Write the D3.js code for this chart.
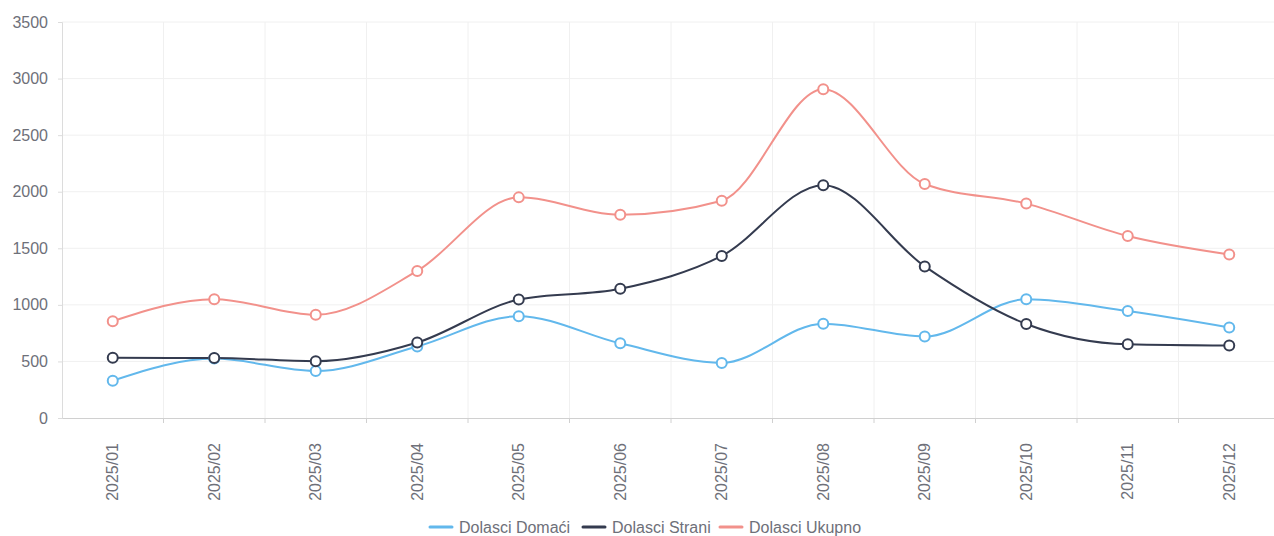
<!DOCTYPE html>
<html lang="en">
<head>
    <meta charset="UTF-8">
    <title>Dolasci 2025</title>
    <script src="https://d3js.org/d3.v7.min.js"></script>
    <style>
        body { margin: 0; background: #fff; }
        text { font-family: "Liberation Sans", Arial, sans-serif; }
    </style>
</head>
<body>
<div id="chart"></div>
<script>
    // Data
    var months = ["2025/01", "2025/02", "2025/03", "2025/04", "2025/05", "2025/06",
                  "2025/07", "2025/08", "2025/09", "2025/10", "2025/11", "2025/12"];
    var domaci = [330, 525, 415, 632, 900, 660, 487, 834, 720, 1050, 945, 800];
    var strani = [532, 530, 502, 667, 1047, 1142, 1432, 2058, 1340, 831, 651, 640];
    var ukupno = [855, 1050, 912, 1300, 1950, 1796, 1920, 2906, 2068, 1895, 1608, 1445];
    var yTicks = [0, 500, 1000, 1500, 2000, 2500, 3000, 3500];

    var seriesNames = ["Dolasci Domaći", "Dolasci Strani", "Dolasci Ukupno"];
    var seriesValues = [domaci, strani, ukupno];
    var colors = ["#62b8ec", "#343b4f", "#f2918b"];

    var width = 1274, height = 536;
    var margin = {top: 22, right: -6, bottom: 118, left: 62};

    var svg = d3.select("#chart")
                .append("svg")
                .attr("width", width)
                .attr("height", height);

    var x = d3.scaleBand()
              .domain(months)
              .range([margin.left, width - margin.right]);

    var y = d3.scaleLinear()
              .domain([0, 3500])
              .range([height - margin.bottom, margin.top]);

    function cx(i) { return x(months[i]) + x.bandwidth() / 2; }

    // Grid lines
    svg.append("g")
       .selectAll("line")
       .data(yTicks.slice(1))
       .enter().append("line")
       .attr("x1", margin.left)
       .attr("x2", width)
       .attr("y1", function(d) { return y(d); })
       .attr("y2", function(d) { return y(d); })
       .attr("stroke", "#f0f0f0");

    svg.append("g")
       .selectAll("line")
       .data(months.slice(1))
       .enter().append("line")
       .attr("x1", function(d) { return x(d); })
       .attr("x2", function(d) { return x(d); })
       .attr("y1", margin.top)
       .attr("y2", y(0))
       .attr("stroke", "#f0f0f0");

    // Y axis
    var yAxis = d3.axisLeft(y).tickValues(yTicks).tickFormat(d3.format("d")).tickSize(4).tickPadding(10);
    var gy = svg.append("g")
                .attr("transform", "translate(" + margin.left + ",0)")
                .call(yAxis);
    gy.select(".domain").attr("stroke", "#dcdcdc");
    gy.selectAll(".tick line").attr("stroke", "#dcdcdc");
    gy.selectAll(".tick text")
      .attr("fill", "#6e7079")
      .style("font-size", "16px");

    // X axis (ticks on category boundaries, labels rotated)
    var xAxis = d3.axisBottom(x).tickSize(0).tickPadding(0);
    var gx = svg.append("g")
                .attr("transform", "translate(0," + y(0) + ")")
                .call(xAxis);
    gx.select(".domain").attr("stroke", "#d0d0d0");
    gx.selectAll(".tick text")
      .attr("fill", "#6e7079")
      .style("font-size", "16px")
      .attr("text-anchor", "end")
      .attr("dy", "0.35em")
      .attr("transform", "translate(0,25) rotate(-90)");

    svg.append("g")
       .selectAll("line")
       .data(months.slice(1))
       .enter().append("line")
       .attr("x1", function(d) { return x(d); })
       .attr("x2", function(d) { return x(d); })
       .attr("y1", y(0))
       .attr("y2", y(0) + 5)
       .attr("stroke", "#d0d0d0");

    // Lines
    var line = d3.line()
                 .x(function(d, i) { return cx(i); })
                 .y(function(d) { return y(d); })
                 .curve(d3.curveMonotoneX);

    seriesValues.forEach(function(values, s) {
        svg.append("path")
           .datum(values)
           .attr("fill", "none")
           .attr("stroke", colors[s])
           .attr("stroke-width", 2)
           .attr("d", line);
    });

    // Markers on top
    seriesValues.forEach(function(values, s) {
        svg.append("g")
           .selectAll("circle")
           .data(values)
           .enter().append("circle")
           .attr("cx", function(d, i) { return cx(i); })
           .attr("cy", function(d) { return y(d); })
           .attr("r", 5)
           .attr("fill", "#fff")
           .attr("stroke", colors[s])
           .attr("stroke-width", 2);
    });

    // Legend
    var legend = svg.append("g").attr("transform", "translate(0,527)");
    var legendX = [430, 583, 720];
    seriesNames.forEach(function(name, s) {
        legend.append("line")
              .attr("x1", legendX[s])
              .attr("x2", legendX[s] + 22)
              .attr("y1", 0)
              .attr("y2", 0)
              .attr("stroke", colors[s])
              .attr("stroke-width", 3)
              .attr("stroke-linecap", "round");
        legend.append("text")
              .attr("x", legendX[s] + 29)
              .attr("y", 0)
              .attr("dy", "0.35em")
              .attr("fill", "#6e7079")
              .style("font-size", "16px")
              .text(name);
    });
</script>
</body>
</html>
